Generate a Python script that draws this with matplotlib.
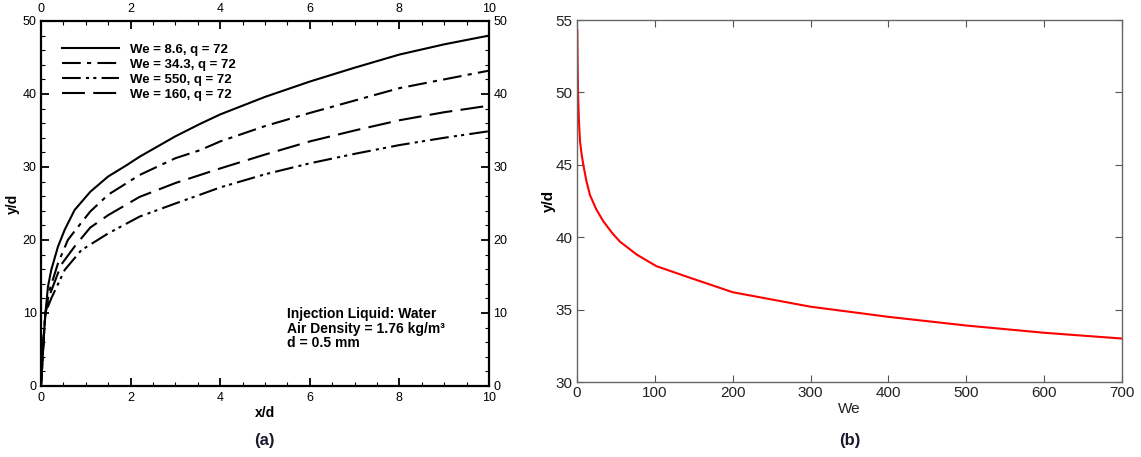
import numpy as np
import matplotlib.pyplot as plt
from matplotlib.ticker import MultipleLocator

plt.rcParams['font.family'] = ['Liberation Sans', 'DejaVu Sans']

# panel (a): trajectories y/d against x/d, one x list per curve
X_8_6 = [0, 0.03, 0.06, 0.1, 0.156, 0.23, 0.38, 0.53, 0.75, 1.1, 1.5, 1.9, 2.2, 3.0, 3.55, 4.0, 5.0, 6.0, 7.0, 8.0, 9.0, 10.0]
Y_8_6 = [0, 3, 6.5, 10, 13.6, 15.9, 19.1, 21.4, 24.1, 26.6, 28.7, 30.2, 31.4, 34.2, 35.9, 37.2, 39.6, 41.7, 43.6, 45.4, 46.8, 48.0]
X_34_3 = [0, 0.03, 0.06, 0.1, 0.19, 0.38, 0.6, 0.75, 1.1, 1.5, 2.2, 3.0, 3.55, 4.0, 5.0, 6.0, 7.0, 8.0, 9.0, 10.0]
Y_34_3 = [0, 3, 6.5, 10, 13.1, 16.8, 20.0, 21.2, 23.9, 26.2, 28.9, 31.2, 32.3, 33.5, 35.6, 37.4, 39.1, 40.8, 42.0, 43.2]
X_550 = [0, 0.03, 0.06, 0.1, 0.23, 0.53, 0.9, 1.5, 2.2, 3.0, 3.55, 4.0, 5.0, 6.0, 7.0, 8.0, 9.0, 10.0]
Y_550 = [0, 3, 6.5, 10, 12.0, 15.9, 18.6, 20.9, 23.2, 25.0, 26.2, 27.2, 29.0, 30.5, 31.8, 33.0, 34.0, 34.9]
X_160 = [0, 0.03, 0.06, 0.1, 0.21, 0.45, 0.75, 1.1, 1.5, 2.2, 3.0, 3.55, 4.0, 5.0, 6.0, 7.0, 8.0, 9.0, 10.0]
Y_160 = [0, 3, 6.5, 10, 12.7, 16.6, 19.1, 21.7, 23.4, 25.9, 27.8, 28.9, 29.8, 31.7, 33.5, 35.0, 36.4, 37.5, 38.4]
LABELS = ["We = 8.6, q = 72", "We = 34.3, q = 72", "We = 550, q = 72", "We = 160, q = 72"]

# panel (b): y/d against We
WE = [0.4, 0.8, 1.3, 2.5, 3.9, 6, 8.1, 12, 16.7, 25, 33.8, 45, 55, 76.7, 102, 145, 200, 250, 300, 400, 500, 600, 700]
YD = [54.3, 52.0, 50.0, 48.0, 46.6, 45.7, 45.0, 43.9, 42.9, 41.9, 41.1, 40.3, 39.7, 38.8, 38.0, 37.2, 36.2, 35.7, 35.2, 34.5, 33.9, 33.4, 33.0]


def plot_a(fig):
    """Tecplot style trajectory panel"""
    ax = fig.add_axes([0.0359, 0.1554, 0.3927, 0.7987])
    dashes = ['-', (0, (9, 3, 2, 3)), (0, (9, 2.5, 1.5, 2, 1.5, 2.5)), (0, (11, 4))]
    series = [(X_8_6, Y_8_6), (X_34_3, Y_34_3), (X_550, Y_550), (X_160, Y_160)]
    for (xs, ys), lab, ls in zip(series, LABELS, dashes):
        ax.plot(xs, ys, color='black', lw=1.5, ls=ls, label=lab)
    ax.set_xlim(0, 10)
    ax.set_ylim(0, 50)
    ax.xaxis.set_major_locator(MultipleLocator(2))
    ax.xaxis.set_minor_locator(MultipleLocator(0.5))
    ax.yaxis.set_major_locator(MultipleLocator(10))
    ax.yaxis.set_minor_locator(MultipleLocator(2))
    ax.tick_params(which='both', direction='in', top=True, right=True,
                   labeltop=True, labelright=True, labelsize=9, width=1.3, pad=3)
    ax.tick_params(axis='x', which='major', pad=4)
    ax.tick_params(which='major', length=6)
    ax.tick_params(which='minor', length=3, width=0.8)
    for s in ax.spines.values():
        s.set_linewidth(1.6)
    # raise the corner label on the right so it clears the bottom "10"
    fig.canvas.draw()
    ax.yaxis.get_major_ticks()[0].label2.set_va('bottom')
    ax.set_xlabel('x/d', fontsize=10, fontweight='bold', labelpad=2)
    ax.set_ylabel('y/d', fontsize=10, fontweight='bold', labelpad=2)
    ax.legend(loc='upper left', bbox_to_anchor=(0.02, 0.97), frameon=False,
              prop={'size': 9.5, 'weight': 'bold'}, handlelength=4.3,
              labelspacing=0.2, handletextpad=0.9)
    ax.text(5.5, 10.8, 'Injection Liquid: Water\nAir Density = 1.76 kg/m\u00b3\nd = 0.5 mm',
            fontsize=10, fontweight='semibold', va='top', linespacing=1.04)
    fig.text(0.232, 0.037, '(a)', fontsize=12, fontweight='bold', ha='center', va='center',
             color='#1a1a2e')


def plot_b(fig):
    """MATLAB style We panel"""
    ax = fig.add_axes([0.5057, 0.1641, 0.4777, 0.7921])
    ax.plot(WE, YD, color='red', lw=1.5)
    ax.set_xlim(0, 700)
    ax.set_ylim(30, 55)
    ax.set_xticks(np.arange(0, 701, 100))
    ax.set_yticks(np.arange(30, 56, 5))
    ax.tick_params(direction='in', top=True, right=True, length=5, labelsize=11,
                   colors='#555555', labelcolor='#222222', pad=3)
    for s in ax.spines.values():
        s.set_color('#666666')
        s.set_linewidth(1.0)
    ax.set_xlabel('We', fontsize=11, color='#222222', labelpad=1)
    ax.set_ylabel('y/d', fontsize=11, fontweight='bold', labelpad=0)
    fig.text(0.745, 0.037, '(b)', fontsize=12, fontweight='bold', ha='center', va='center',
             color='#1a1a2e')


def main():
    fig = plt.figure(figsize=(11.41, 4.57), dpi=100)
    plot_a(fig)
    plot_b(fig)
    fig.savefig('out.png', dpi=100)


main()
